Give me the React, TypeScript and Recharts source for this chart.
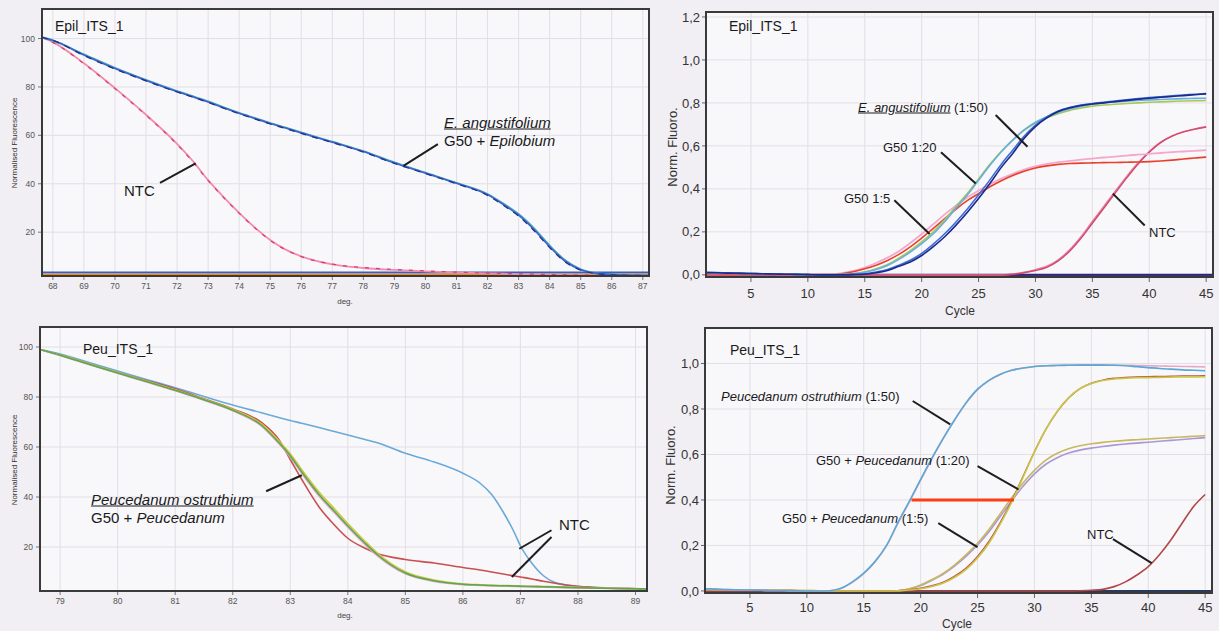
import React from 'react';
import { LineChart, Line, XAxis, YAxis, CartesianGrid, ReferenceLine } from 'recharts';

// ---- Epil_ITS_1 melt curve (top left) ----
const epilTemps = [67.65, 68, 69, 70, 71, 72, 72.5, 73, 73.5, 74, 74.5, 75, 75.5, 76, 77, 78, 79, 80, 81, 82, 82.5, 83, 83.5, 84, 84.5, 85, 85.5, 86, 86.5, 87.2];
const epilBlue = [100.6, 99.3, 93.2, 87.6, 82.7, 78.1, 76.0, 73.8, 71.4, 69.1, 67.0, 64.9, 63.0, 61.0, 57.2, 53.3, 48.6, 44.4, 40.2, 35.5, 31.5, 27.0, 21.0, 14.0, 8.0, 4.5, 3.0, 2.5, 2.2, 2.1];
const epilTeal = [100.4, 99.1, 93.5, 87.9, 82.9, 78.3, 76.2, 74.0, 71.6, 69.3, 67.2, 65.1, 63.2, 61.2, 57.4, 53.5, 48.8, 44.6, 40.4, 35.8, 31.9, 27.5, 21.6, 14.5, 8.4, 4.7, 3.1, 2.6, 2.3, 2.1];
const epilNavy = [100.5, 99.2, 93.0, 87.4, 82.5, 77.9, 75.8, 73.6, 71.2, 68.9, 66.8, 64.7, 62.8, 60.8, 57.0, 53.1, 48.4, 44.2, 40.0, 35.2, 31.2, 26.6, 20.6, 13.6, 7.7, 4.3, 2.9, 2.4, 2.2, 2.1];
const epilNtcPink = [100.5, 98.5, 89.8, 79.5, 68.5, 56.5, 49.5, 41.5, 34.5, 28.0, 22.0, 16.8, 12.8, 10.0, 6.7, 5.2, 4.4, 3.8, 3.4, 3.0, 2.9, 2.7, 2.6, 2.4, 2.3, 2.2, 2.15, 2.1, 2.05, 2.0];
const epilNtcRed = [100.5, 98.4, 89.6, 79.3, 68.3, 56.2, 49.2, 41.3, 34.3, 27.8, 21.8, 16.6, 12.7, 9.9, 6.8, 5.4, 4.6, 4.0, 3.5, 3.1, 2.95, 2.8, 2.65, 2.5, 2.35, 2.25, 2.2, 2.1, 2.05, 2.0];
const epilTempTicks = [68, 69, 70, 71, 72, 73, 74, 75, 76, 77, 78, 79, 80, 81, 82, 83, 84, 85, 86, 87];
const meltYTicks = [20, 40, 60, 80, 100];

// ---- Epil_ITS_1 amplification (top right) ----
const cycles = [1, 2, 3, 4, 5, 6, 7, 8, 9, 10, 11, 12, 13, 14, 15, 16, 17, 18, 19, 20, 21, 22, 23, 24, 25, 26, 27, 28, 29, 30, 31, 32, 33, 34, 35, 36, 37, 38, 39, 40, 41, 42, 43, 44, 45];
const angustNavy = [0.010, 0.010, 0.008, 0.007, 0.006, 0.005, 0.004, 0.003, 0.002, 0.001, 0.000, 0.000, 0.000, 0.001, 0.003, 0.010, 0.020, 0.040, 0.060, 0.090, 0.130, 0.176, 0.230, 0.290, 0.355, 0.425, 0.500, 0.565, 0.635, 0.690, 0.730, 0.760, 0.777, 0.788, 0.795, 0.800, 0.806, 0.812, 0.817, 0.822, 0.826, 0.830, 0.834, 0.838, 0.842];
const angustBlue = [0.012, 0.011, 0.009, 0.008, 0.006, 0.005, 0.004, 0.003, 0.002, 0.001, 0.000, 0.000, 0.001, 0.002, 0.005, 0.013, 0.025, 0.045, 0.068, 0.100, 0.142, 0.190, 0.245, 0.305, 0.372, 0.442, 0.515, 0.580, 0.645, 0.697, 0.735, 0.762, 0.779, 0.790, 0.797, 0.803, 0.809, 0.815, 0.820, 0.825, 0.829, 0.833, 0.837, 0.840, 0.844];
const g50d20Light = [0.012, 0.010, 0.009, 0.008, 0.006, 0.005, 0.004, 0.003, 0.002, 0.001, 0.000, 0.000, 0.002, 0.005, 0.012, 0.025, 0.044, 0.072, 0.106, 0.145, 0.190, 0.246, 0.310, 0.370, 0.440, 0.510, 0.573, 0.627, 0.674, 0.710, 0.736, 0.756, 0.772, 0.784, 0.794, 0.800, 0.804, 0.808, 0.811, 0.814, 0.816, 0.818, 0.820, 0.821, 0.822];
const g50d20Green = [0.010, 0.009, 0.008, 0.007, 0.006, 0.005, 0.004, 0.003, 0.002, 0.001, 0.000, 0.000, 0.002, 0.006, 0.014, 0.028, 0.048, 0.078, 0.113, 0.153, 0.199, 0.255, 0.318, 0.378, 0.446, 0.514, 0.575, 0.627, 0.672, 0.706, 0.731, 0.750, 0.765, 0.776, 0.785, 0.790, 0.794, 0.797, 0.800, 0.803, 0.805, 0.807, 0.809, 0.810, 0.811];
const g50d5Red = [0.005, 0.005, 0.004, 0.004, 0.003, 0.003, 0.002, 0.002, 0.001, 0.001, 0.001, 0.001, 0.005, 0.014, 0.028, 0.045, 0.067, 0.095, 0.130, 0.171, 0.215, 0.260, 0.305, 0.345, 0.378, 0.410, 0.438, 0.462, 0.482, 0.497, 0.507, 0.514, 0.518, 0.520, 0.521, 0.522, 0.523, 0.524, 0.525, 0.527, 0.530, 0.534, 0.539, 0.544, 0.548];
const g50d5Pink = [0.006, 0.006, 0.005, 0.004, 0.004, 0.003, 0.003, 0.002, 0.002, 0.001, 0.001, 0.002, 0.008, 0.018, 0.034, 0.055, 0.080, 0.110, 0.148, 0.190, 0.235, 0.280, 0.322, 0.360, 0.392, 0.422, 0.448, 0.470, 0.490, 0.505, 0.516, 0.524, 0.530, 0.536, 0.541, 0.546, 0.550, 0.555, 0.559, 0.563, 0.567, 0.571, 0.574, 0.577, 0.580];
const epilNtcAmp = [0, 0, 0, 0, 0, 0, 0, 0, 0, 0, 0, 0, 0, 0, 0, 0, 0, 0, 0, 0, 0, 0, 0, 0, 0, 0, 0, 0.003, 0.010, 0.020, 0.035, 0.065, 0.110, 0.170, 0.240, 0.310, 0.380, 0.450, 0.515, 0.570, 0.615, 0.645, 0.665, 0.678, 0.688];
const epilNtcAmp2 = [0, 0, 0, 0, 0, 0, 0, 0, 0, 0, 0, 0, 0, 0, 0, 0, 0, 0, 0, 0, 0, 0, 0, 0, 0, 0, 0, 0.004, 0.012, 0.024, 0.040, 0.070, 0.116, 0.177, 0.248, 0.318, 0.388, 0.457, 0.520, 0.574, 0.617, 0.646, 0.666, 0.679, 0.690];
const cycleTicks = [5, 10, 15, 20, 25, 30, 35, 40, 45];
const epilAmpYTicks = [0, 0.2, 0.4, 0.6, 0.8, 1.0, 1.2];

// ---- Peu_ITS_1 melt curve (bottom left) ----
const peuTemps = [78.65, 79, 79.5, 80, 80.5, 81, 81.5, 82, 82.5, 82.8, 83, 83.2, 83.5, 83.8, 84, 84.3, 84.5, 85, 85.5, 86, 86.3, 86.5, 86.7, 86.9, 87, 87.2, 87.4, 87.6, 88, 88.5, 89, 89.2];
const peuGreen = [99.0, 96.7, 93.1, 89.6, 86.2, 82.7, 78.9, 74.7, 68.7, 61.8, 56.5, 50.0, 41.0, 33.5, 28.5, 21.5, 17.2, 9.6, 6.5, 5.1, 4.8, 4.6, 4.5, 4.4, 4.3, 4.2, 4.1, 4.0, 3.7, 3.5, 3.3, 3.2];
const peuYellow = [99.0, 96.8, 93.3, 89.8, 86.4, 82.9, 79.1, 75.0, 69.2, 62.5, 57.3, 50.9, 42.0, 34.5, 29.4, 22.3, 17.9, 10.1, 6.8, 5.3, 4.9, 4.7, 4.6, 4.5, 4.4, 4.3, 4.2, 4.1, 3.8, 3.5, 3.3, 3.2];
const peuPink = [99.0, 96.6, 93.0, 89.5, 86.0, 82.5, 78.7, 74.5, 68.4, 61.4, 56.0, 49.5, 40.4, 32.9, 27.9, 21.0, 16.8, 9.3, 6.3, 5.0, 4.7, 4.5, 4.4, 4.3, 4.2, 4.1, 4.0, 3.9, 3.7, 3.5, 3.3, 3.2];
const peuNtcBlue = [99.0, 97.2, 93.8, 90.4, 87.0, 83.7, 80.2, 76.8, 73.7, 71.8, 70.6, 69.5, 67.8, 66.0, 64.8, 63.0, 61.8, 57.5, 54.0, 49.5, 45.5, 41.0, 34.0, 25.5, 20.5, 13.5, 8.5, 5.8, 4.2, 3.6, 3.3, 3.2];
const peuNtcRed = [99.0, 96.8, 93.3, 89.8, 86.6, 83.3, 79.3, 75.2, 69.8, 63.0, 55.0, 47.0, 36.0, 28.0, 23.5, 19.5, 17.5, 15.0, 13.6, 11.8, 10.8, 10.0, 9.2, 8.4, 8.0, 7.2, 6.3, 5.5, 4.3, 3.6, 3.3, 3.2];
const peuTempTicks = [79, 80, 81, 82, 83, 84, 85, 86, 87, 88, 89];

// ---- Peu_ITS_1 amplification (bottom right) ----
const ostruthBlue = [0.010, 0.008, 0.006, 0.005, 0.004, 0.003, 0.002, 0.002, 0.001, 0.000, 0.000, 0.001, 0.012, 0.040, 0.078, 0.130, 0.200, 0.300, 0.394, 0.490, 0.585, 0.673, 0.754, 0.828, 0.887, 0.926, 0.953, 0.970, 0.980, 0.987, 0.990, 0.991, 0.992, 0.993, 0.993, 0.993, 0.992, 0.990, 0.986, 0.982, 0.978, 0.975, 0.972, 0.970, 0.968];
const ostruthPink = [0.008, 0.007, 0.006, 0.005, 0.004, 0.003, 0.002, 0.002, 0.001, 0.000, 0.000, 0.001, 0.011, 0.038, 0.076, 0.128, 0.198, 0.297, 0.391, 0.487, 0.582, 0.671, 0.752, 0.826, 0.885, 0.925, 0.952, 0.970, 0.980, 0.987, 0.990, 0.992, 0.993, 0.994, 0.994, 0.994, 0.993, 0.992, 0.991, 0.990, 0.989, 0.988, 0.987, 0.986, 0.985];
const g50PHiYellow = [0.006, 0.006, 0.005, 0.005, 0.004, 0.004, 0.003, 0.003, 0.002, 0.002, 0.001, 0.001, 0.000, 0.000, 0.000, 0.000, 0.000, 0.001, 0.004, 0.010, 0.020, 0.035, 0.060, 0.095, 0.145, 0.210, 0.295, 0.390, 0.500, 0.610, 0.710, 0.790, 0.850, 0.890, 0.912, 0.925, 0.932, 0.935, 0.937, 0.938, 0.939, 0.940, 0.941, 0.941, 0.942];
const g50PHiRed = [0.004, 0.004, 0.004, 0.003, 0.003, 0.003, 0.002, 0.002, 0.002, 0.001, 0.001, 0.001, 0.000, 0.000, 0.000, 0.000, 0.000, 0.001, 0.005, 0.012, 0.023, 0.039, 0.065, 0.101, 0.152, 0.218, 0.302, 0.396, 0.504, 0.612, 0.710, 0.788, 0.848, 0.889, 0.913, 0.927, 0.935, 0.939, 0.941, 0.942, 0.943, 0.944, 0.945, 0.945, 0.946];
const g50PLoOlive = [0.006, 0.006, 0.005, 0.005, 0.004, 0.004, 0.003, 0.003, 0.002, 0.002, 0.001, 0.001, 0.000, 0.000, 0.000, 0.000, 0.000, 0.001, 0.010, 0.026, 0.050, 0.078, 0.115, 0.160, 0.210, 0.270, 0.340, 0.410, 0.475, 0.530, 0.575, 0.605, 0.625, 0.638, 0.647, 0.653, 0.658, 0.662, 0.665, 0.668, 0.671, 0.674, 0.677, 0.680, 0.683];
const g50PLoPurple = [0.005, 0.005, 0.004, 0.004, 0.003, 0.003, 0.002, 0.002, 0.001, 0.001, 0.001, 0.000, 0.000, 0.000, 0.000, 0.000, 0.000, 0.001, 0.009, 0.024, 0.047, 0.074, 0.110, 0.153, 0.202, 0.260, 0.328, 0.396, 0.460, 0.515, 0.557, 0.586, 0.606, 0.619, 0.628, 0.635, 0.641, 0.646, 0.650, 0.654, 0.658, 0.662, 0.666, 0.670, 0.674];
const peuNtcAmp = [0, 0, 0, 0, 0, 0, 0, 0, 0, 0, 0, 0, 0, 0, 0, 0, 0, 0, 0, 0, 0, 0, 0, 0, 0, 0, 0, 0, 0, 0, 0, 0, 0, 0.001, 0.003, 0.007, 0.019, 0.040, 0.070, 0.107, 0.160, 0.225, 0.300, 0.372, 0.424];
const peuAmpYTicks = [0, 0.2, 0.4, 0.6, 0.8, 1.0];

const epilMeltRows = epilTemps.map((t, i) => ({
  t, blue: epilBlue[i], teal: epilTeal[i], navy: epilNavy[i], ntcPink: epilNtcPink[i], ntcRed: epilNtcRed[i],
}));
const epilAmpRows = cycles.map((c, i) => ({
  c, navy: angustNavy[i], blue: angustBlue[i], light: g50d20Light[i], green: g50d20Green[i],
  red: g50d5Red[i], pink: g50d5Pink[i], ntc: epilNtcAmp[i], ntc2: epilNtcAmp2[i],
}));
const peuMeltRows = peuTemps.map((t, i) => ({
  t, green: peuGreen[i], yellow: peuYellow[i], pink: peuPink[i], ntcBlue: peuNtcBlue[i], ntcRed: peuNtcRed[i],
}));
const peuAmpRows = cycles.map((c, i) => ({
  c, blue: ostruthBlue[i], pink: ostruthPink[i], hiYellow: g50PHiYellow[i], hiRed: g50PHiRed[i],
  loOlive: g50PLoOlive[i], loPurple: g50PLoPurple[i], ntc: peuNtcAmp[i],
}));

const FONT = 'Arial, "Liberation Sans", Helvetica, sans-serif';
const GRID = '#e2dfe7';
const PLOT_BG = '#f8f7fa';
const FRAME = '#3a3a3a';
const LEADER = '#1e1e1e';

const comma = (v: number) => v.toFixed(1).replace('.', ',');

const Note = ({ x, y, size = 14, children, style = {} }: any) => (
  <div style={{
    position: 'absolute', left: x, top: y, fontSize: size, lineHeight: 1,
    transform: 'translateY(-50%)', whiteSpace: 'nowrap', color: '#1a1a1a', ...style,
  }}>{children}</div>
);

const VNote = ({ x, y, size, children }: any) => (
  <div style={{
    position: 'absolute', left: x, top: y, fontSize: size, lineHeight: 1, color: '#333',
    transform: 'translate(-50%, -50%) rotate(-90deg)', whiteSpace: 'nowrap',
  }}>{children}</div>
);

// dark border drawn on the plot-area edges
const Frame = ({ x0, y0, x1, y1 }: any) => (
  <div style={{
    position: 'absolute', left: x0 - 1, top: y0 - 1, width: x1 - x0 + 2, height: y1 - y0 + 2,
    border: `2px solid ${FRAME}`, boxSizing: 'border-box', pointerEvents: 'none',
  }} />
);

const line = (key: string, color: string, width = 1.6, dash?: string) => (
  <Line key={key} type="monotone" dataKey={key} stroke={color} strokeWidth={width}
    strokeDasharray={dash} dot={false} isAnimationActive={false} />
);

const lead = (x1: number, y1: number, x2: number, y2: number) => (
  <ReferenceLine segment={[{ x: x1, y: y1 }, { x: x2, y: y2 }]} stroke={LEADER} strokeWidth={2} ifOverflow="visible" />
);

const App: React.FC = () => {
  const smallTick = { fontSize: 8.5, fill: '#555', fontFamily: FONT };
  const bigTick = { fontSize: 13, fill: '#333', fontFamily: FONT };

  return (
    <div style={{ position: 'absolute', left: 0, top: 0, width: 1219, height: 631, background: '#f1eff4', fontFamily: FONT, overflow: 'hidden' }}>
      {/* top left: Epil melt */}
      <div style={{ position: 'absolute', left: 0, top: 0 }}>
        <LineChart width={660} height={310} data={epilMeltRows} margin={{ top: 9, right: 11, bottom: 4, left: 8 }}>
          <CartesianGrid stroke={GRID} fill={PLOT_BG} />
          <XAxis dataKey="t" type="number" domain={[67.65, 87.2]} ticks={epilTempTicks} allowDataOverflow
            height={30} tick={smallTick} tickSize={4} tickMargin={3} axisLine={false} tickLine={{ stroke: '#777' }} />
          <YAxis type="number" domain={[1.9, 112.2]} ticks={meltYTicks} allowDataOverflow
            width={34} tick={smallTick} tickSize={4} tickMargin={3} axisLine={false} tickLine={{ stroke: '#777' }} />
          <ReferenceLine y={3.3} stroke="#2f5fd0" strokeWidth={2} />
          <ReferenceLine y={2.6} stroke="#f08a20" strokeWidth={1.5} />
          {line('ntcPink', '#f08cb0', 1.8)}
          {line('ntcRed', '#d8405c', 1.2, '4 7')}
          {line('teal', '#4aa6b8', 1.8)}
          {line('blue', '#3a64c8', 1.6)}
          {line('navy', '#23308a', 1.2, '6 6')}
          {lead(80.4, 56.4, 79.29, 47.4)}
          {lead(71.45, 40.4, 72.6, 48.4)}
        </LineChart>
      </div>

      {/* top right: Epil amplification */}
      <div style={{ position: 'absolute', left: 660, top: 0 }}>
        <LineChart width={559} height={320} data={epilAmpRows} margin={{ top: 12, right: 6, bottom: 18, left: 6 }}>
          <CartesianGrid stroke={GRID} fill={PLOT_BG} />
          <XAxis dataKey="c" type="number" domain={[1.05, 45.6]} ticks={cycleTicks} allowDataOverflow
            height={25} tick={bigTick} tickSize={5} tickMargin={7} axisLine={false} tickLine={{ stroke: '#666' }} />
          <YAxis type="number" domain={[-0.01, 1.223]} ticks={epilAmpYTicks} tickFormatter={comma} allowDataOverflow
            width={40} tick={bigTick} tickSize={4} tickMargin={2} axisLine={false} tickLine={{ stroke: '#666' }} />
          <ReferenceLine y={-0.004} stroke="#e03030" strokeWidth={2} />
          <ReferenceLine y={0} stroke="#1c2a8a" strokeWidth={2} />
          {line('ntc2', '#e880a8', 1.6)}
          {line('ntc', '#d04a6a', 1.4)}
          {line('pink', '#f4a8cc', 1.8)}
          {line('red', '#e8402c', 1.6)}
          {line('green', '#a8c858', 1.6)}
          {line('light', '#66aee0', 1.6)}
          {line('blue', '#3c6ed8', 1.6)}
          {line('navy', '#1c2a8a', 1.6)}
          {lead(26.5, 0.744, 29.3, 0.596)}
          {lead(21.7, 0.57, 24.75, 0.425)}
          {lead(17.6, 0.347, 20.7, 0.19)}
          {lead(39.6, 0.23, 36.8, 0.378)}
        </LineChart>
      </div>

      {/* bottom left: Peu melt */}
      <div style={{ position: 'absolute', left: 0, top: 315 }}>
        <LineChart width={660} height={316} data={peuMeltRows} margin={{ top: 12, right: 13, bottom: 15, left: 8 }}>
          <CartesianGrid stroke={GRID} fill={PLOT_BG} />
          <XAxis dataKey="t" type="number" domain={[78.65, 89.2]} ticks={peuTempTicks} allowDataOverflow
            height={25} tick={smallTick} tickSize={4} tickMargin={3} axisLine={false} tickLine={{ stroke: '#777' }} />
          <YAxis type="number" domain={[2.4, 108]} ticks={meltYTicks} allowDataOverflow
            width={32} tick={smallTick} tickSize={4} tickMargin={3} axisLine={false} tickLine={{ stroke: '#777' }} />
          {line('ntcBlue', '#6aaad8', 1.6)}
          {line('ntcRed', '#c85050', 1.6)}
          {line('pink', '#e6a8c8', 1.8)}
          {line('yellow', '#d0c840', 1.6)}
          {line('green', '#5aa850', 1.6)}
          {lead(82.58, 42.3, 83.2, 48.7)}
          {lead(87.54, 26.7, 86.98, 19.3)}
          {lead(87.54, 24, 86.85, 8)}
        </LineChart>
      </div>

      {/* bottom right: Peu amplification */}
      <div style={{ position: 'absolute', left: 660, top: 315 }}>
        <LineChart width={559} height={316} data={peuAmpRows} margin={{ top: 13, right: 7, bottom: 13, left: 5 }}>
          <CartesianGrid stroke={GRID} fill={PLOT_BG} />
          <XAxis dataKey="c" type="number" domain={[1.05, 45.6]} ticks={cycleTicks} allowDataOverflow
            height={25} tick={bigTick} tickSize={5} tickMargin={5} axisLine={false} tickLine={{ stroke: '#666' }} />
          <YAxis type="number" domain={[-0.009, 1.156]} ticks={peuAmpYTicks} tickFormatter={comma} allowDataOverflow
            width={40} tick={bigTick} tickSize={4} tickMargin={2} axisLine={false} tickLine={{ stroke: '#666' }} />
          <ReferenceLine y={0} stroke="#2a3a5a" strokeWidth={2} />
          {line('ntc', '#b04848', 1.6)}
          {line('loPurple', '#a898d8', 1.6)}
          {line('loOlive', '#c8b860', 1.6)}
          {line('hiRed', '#c05048', 1.4)}
          {line('hiYellow', '#c8c848', 1.6)}
          {line('pink', '#eaa6c8', 1.6)}
          {line('blue', '#5aa8d4', 1.6)}
          <ReferenceLine segment={[{ x: 19.2, y: 0.4 }, { x: 28.2, y: 0.4 }]} stroke="#ff3c14" strokeWidth={3} />
          {lead(19.3, 0.835, 22.6, 0.732)}
          {lead(25, 0.549, 28.6, 0.446)}
          {lead(21.55, 0.2985, 25, 0.193)}
          {lead(36.9, 0.228, 40.3, 0.122)}
        </LineChart>
      </div>

      <Frame x0={42} y0={9} x1={649} y1={276} />
      <Frame x0={706} y0={12} x1={1213} y1={277} />
      <Frame x0={40} y0={327} x1={647} y1={591} />
      <Frame x0={705} y0={328} x1={1212} y1={593} />

      {/* texts: top left */}
      <Note x={55} y={26} size={14}>Epil_ITS_1</Note>
      <Note x={444} y={122} size={15} style={{ fontStyle: 'italic', textDecoration: 'underline' }}>E. angustifolium</Note>
      <Note x={444} y={140} size={15}>G50 + <i>Epilobium</i></Note>
      <Note x={124} y={190} size={15}>NTC</Note>
      <VNote x={15} y={143} size={8}>Normalised Fluorescence</VNote>
      <Note x={345} y={302} size={8} style={{ transform: 'translate(-50%, -50%)', color: '#444' }}>deg.</Note>

      {/* texts: top right */}
      <Note x={729} y={26} size={14}>Epil_ITS_1</Note>
      <Note x={858} y={107} size={13}><span style={{ fontStyle: 'italic', textDecoration: 'underline' }}>E. angustifolium</span> (1:50)</Note>
      <Note x={883} y={147} size={13}>G50 1:20</Note>
      <Note x={844} y={198} size={13}>G50 1:5</Note>
      <Note x={1149} y={232} size={13}>NTC</Note>
      <VNote x={672} y={147} size={13}>Norm. Fluoro.</VNote>
      <Note x={960} y={311} size={12} style={{ transform: 'translate(-50%, -50%)', color: '#333' }}>Cycle</Note>

      {/* texts: bottom left */}
      <Note x={83} y={349} size={14}>Peu_ITS_1</Note>
      <Note x={91} y={499} size={15} style={{ fontStyle: 'italic', textDecoration: 'underline' }}>Peucedanum ostruthium</Note>
      <Note x={91} y={517} size={15}>G50 + <i>Peucedanum</i></Note>
      <Note x={559} y={524} size={15}>NTC</Note>
      <VNote x={15} y={460} size={8}>Normalised Fluorescence</VNote>
      <Note x={345} y={616} size={8} style={{ transform: 'translate(-50%, -50%)', color: '#444' }}>deg.</Note>

      {/* texts: bottom right */}
      <Note x={730} y={350} size={14}>Peu_ITS_1</Note>
      <Note x={721} y={396} size={13}><i>Peucedanum ostruthium</i> (1:50)</Note>
      <Note x={816} y={460} size={13}>G50 + <i>Peucedanum</i> (1:20)</Note>
      <Note x={782} y={518} size={13}>G50 + <i>Peucedanum</i> (1:5)</Note>
      <Note x={1087} y={534} size={13}>NTC</Note>
      <VNote x={670} y={465} size={13}>Norm. Fluoro.</VNote>
      <Note x={957} y={624} size={12} style={{ transform: 'translate(-50%, -50%)', color: '#333' }}>Cycle</Note>
    </div>
  );
};

export default App;
